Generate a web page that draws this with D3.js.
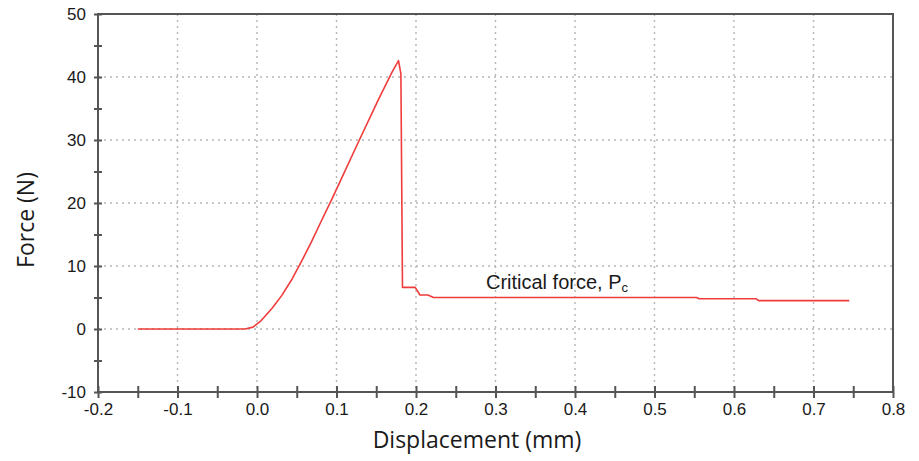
<!DOCTYPE html>
<html>
<head>
<meta charset="utf-8">
<script src="https://cdn.jsdelivr.net/npm/d3@7/dist/d3.min.js"></script>
<style>
  body { margin: 0; background: #fff; }
  svg text { font-family: "Liberation Sans", Arial, sans-serif; fill: #1a1a1a; }
</style>
</head>
<body>
<div id="chart"></div>
<script>
// displacement (mm) and force (N)
var displacement = [-0.15, -0.015, -0.005, 0.005, 0.019, 0.031, 0.044, 0.055, 0.068, 0.080, 0.093, 0.103,
    0.128, 0.153, 0.170, 0.178, 0.181, 0.183, 0.199, 0.205, 0.215, 0.222, 0.553, 0.556, 0.628, 0.631, 0.745];
var force = [0, 0, 0.3, 1.3, 3.3, 5.3, 7.9, 10.5, 13.7, 16.9, 20.3, 23.0,
    29.8, 36.5, 40.8, 42.6, 40.5, 6.6, 6.6, 5.4, 5.4, 5.0, 5.0, 4.8, 4.8, 4.5, 4.5];

var xTicks = [-0.2, -0.1, 0.0, 0.1, 0.2, 0.3, 0.4, 0.5, 0.6, 0.7, 0.8];
var yTicks = [-10, 0, 10, 20, 30, 40, 50];

var width = 919, height = 461;
var margin = {top: 14, right: 26, bottom: 69, left: 98};

var svg = d3.select("#chart").append("svg")
    .attr("width", width)
    .attr("height", height);

var x = d3.scaleLinear().domain([-0.2, 0.8]).range([margin.left, width - margin.right]);
var y = d3.scaleLinear().domain([-10, 50]).range([height - margin.bottom, margin.top]);

// dotted grid
var grid = svg.append("g").attr("class", "grid")
    .style("stroke", "#b5b5b5").style("stroke-width", 1.4).style("stroke-dasharray", "2,4");
grid.selectAll("line.v").data(xTicks.slice(1, -1)).enter().append("line")
    .attr("x1", d => x(d)).attr("x2", d => x(d))
    .attr("y1", y(50)).attr("y2", y(-10));
grid.selectAll("line.h").data(yTicks.slice(1, -1)).enter().append("line")
    .attr("x1", x(-0.2)).attr("x2", x(0.8))
    .attr("y1", d => y(d)).attr("y2", d => y(d));

// frame
svg.append("rect")
    .attr("x", x(-0.2)).attr("y", y(50))
    .attr("width", x(0.8) - x(-0.2)).attr("height", y(-10) - y(50))
    .style("fill", "none").style("stroke", "#555").style("stroke-width", 2);

// x axis
var xAxis = svg.append("g")
    .attr("transform", "translate(0," + y(-10) + ")")
    .call(d3.axisBottom(x).tickValues(d3.range(-0.2, 0.81, 0.05)).tickSize(6)
        .tickFormat(d => {
            var r = Math.round(d * 100);
            return r % 10 === 0 ? d3.format(".1f")(r / 100).replace("−", "-") : "";
        }));
xAxis.select(".domain").remove();
xAxis.selectAll(".tick line").attr("y1", -6).attr("y2", 6)
    .style("stroke", "#555").style("stroke-width", 2);
xAxis.selectAll(".tick text").attr("y", 11).style("font-size", "17px");

// y axis
var yAxis = svg.append("g")
    .attr("transform", "translate(" + x(-0.2) + ",0)")
    .call(d3.axisLeft(y).tickValues(d3.range(-10, 51, 5)).tickSize(4)
        .tickFormat(d => d % 10 === 0 ? String(d) : ""));
yAxis.select(".domain").remove();
yAxis.selectAll(".tick line").attr("x1", -4).attr("x2", 4)
    .style("stroke", "#555").style("stroke-width", 2);
yAxis.selectAll(".tick text").attr("x", -12).style("font-size", "17px");

// curve
var line = d3.line()
    .x((d, i) => x(displacement[i]))
    .y((d, i) => y(force[i]));

svg.append("path")
    .datum(force)
    .attr("d", line)
    .style("fill", "none")
    .style("stroke", "#f03c3c")
    .style("stroke-width", 1.6)
    .style("stroke-linejoin", "round");

// annotation
var note = svg.append("text")
    .attr("x", x(0.288)).attr("y", y(6.4))
    .style("font-size", "20px");
note.append("tspan").text("Critical force, P");
note.append("tspan").attr("dy", 3).style("font-size", "13px").text("c");

// axis titles
svg.append("text")
    .attr("x", 477).attr("y", 448)
    .attr("text-anchor", "middle")
    .style("font-family", "'Open Sans', sans-serif")
    .style("font-size", "23px")
    .text("Displacement (mm)");

svg.append("text")
    .attr("transform", "translate(34,220) rotate(-90)")
    .attr("text-anchor", "middle")
    .style("font-family", "'Open Sans', sans-serif")
    .style("font-size", "23px")
    .text("Force (N)");
</script>
</body>
</html>
